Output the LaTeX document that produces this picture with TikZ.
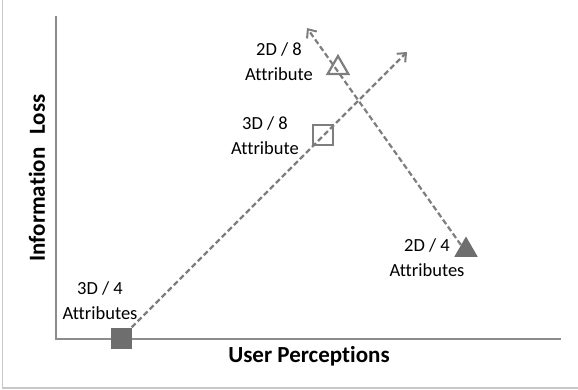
\documentclass[tikz,border=0pt]{standalone}
\usepackage{fontspec}
\setmainfont{Carlito}[Ligatures=NoCommon]
\usepackage{xcolor}
\usepackage{tikz}
\usetikzlibrary{arrows.meta, positioning, shapes.geometric}
\definecolor{axisgray}{HTML}{8C8C8C}
\definecolor{linegray}{HTML}{7E7E7E}
\definecolor{markgray}{HTML}{6E6E6E}
\definecolor{framegray}{HTML}{C8C8C8}

\begin{document}
\begin{tikzpicture}[
        x=1pt, y=-1pt,
        axis/.style={draw=axisgray, line width=2.2pt},
        trend/.style={draw=linegray, line width=2.2pt, dash pattern=on 5.5pt off 3pt,
            -{Straight Barb[length=7pt, width=12pt, line width=2pt]}},
        fullsq/.style={rectangle, fill=markgray, minimum size=21pt, inner sep=0pt},
        opensq/.style={rectangle, draw=linegray, line width=2.2pt, minimum size=20pt, inner sep=0pt},
        fulltri/.style={regular polygon, regular polygon sides=3, fill=markgray,
            minimum size=27pt, inner sep=0pt},
        opentri/.style={regular polygon, regular polygon sides=3, draw=linegray,
            line width=2.2pt, minimum size=24pt, inner sep=0pt},
        caption/.style={align=center, font=\fontsize{18.5}{25}\selectfont, inner sep=0pt},
        axislabel/.style={font=\bfseries\fontsize{23}{26}\selectfont, inner sep=0pt}
    ]
        \useasboundingbox (0,0) rectangle (578,389);

        % frame
        \draw[framegray, line width=1.2pt] (2.5,0) -- (2.5,388) -- (578,388);

        % axes
        \coordinate (origin) at (56,339);
        \coordinate (ytop) at (56,16);
        \coordinate (xend) at (561,339);
        \draw[axis] (ytop) -- (origin) -- (xend);
        \node[axislabel] (xlabel) at (309,356) {User Perceptions};
        \node[axislabel, rotate=90] (ylabel) at (37,178) {Information\hspace{0.35em} Loss};

        % markers
        \node[fullsq] (threefour) at (121,338) {};
        \node[opensq] (threeeight) at (323,135) {};
        \node[fulltri] (twofour) at (466,250) {};
        \node[opentri] (twoeight) at (338,68) {};

        \coordinate (tipup) at (407,52);
        \coordinate (tipleft) at (307,28);

        \draw[trend] (threefour.north east) -- (tipup);
        \draw[trend] (twofour.north west) -- (tipleft);

        % labels
        \node[caption] (lbl34) at (100,301) {3D / 4\\Attributes};
        \node[caption] (lbl38) at (265,136) {3D / 8\\Attribute};
        \node[caption] (lbl28) at (279,62) {2D / 8\\Attribute};
        \node[caption] (lbl24) at (427,258) {2D / 4\\Attributes};
    \end{tikzpicture}
\end{document}
